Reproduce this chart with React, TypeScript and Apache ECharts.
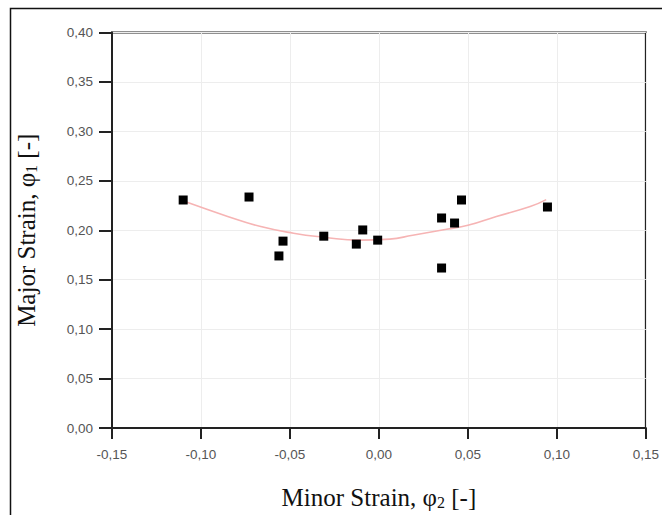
import React, { useEffect, useRef } from "react";
import * as echarts from "echarts";

const pointsX = [-0.11, -0.073, -0.0562, -0.0539, -0.031, -0.0127, -0.0091, -0.0007, 0.0352, 0.0425, 0.0464, 0.0352, 0.0947];
const pointsY = [0.2306, 0.2336, 0.174, 0.189, 0.194, 0.186, 0.2003, 0.19, 0.2124, 0.2073, 0.2306, 0.1618, 0.2235];

const fitX = [-0.109, -0.085, -0.067, -0.048, -0.031, -0.011, 0.006, 0.019, 0.038, 0.05, 0.066, 0.085, 0.094];
const fitY = [0.229, 0.214, 0.204, 0.197, 0.193, 0.19, 0.191, 0.195, 0.201, 0.205, 0.214, 0.224, 0.231];

const xName = "Minor Strain, ";
const yName = "Major Strain, ";

const fmt = (v: number) => v.toFixed(2).replace(".", ",");

export default function App() {
  const ref = useRef<HTMLDivElement>(null);
  useEffect(() => {
    if (!ref.current) return;
    const chart = echarts.init(ref.current, null, { renderer: "svg" });
    const nameRich = {
      n: { fontFamily: "Liberation Serif", fontSize: 25, color: "#111", verticalAlign: "bottom" as const, lineHeight: 27 },
      s: { fontFamily: "Liberation Serif", fontSize: 16, color: "#111", verticalAlign: "bottom" as const, lineHeight: 22 },
    };
    const axisCommon = {
      type: "value" as const,
      axisLine: { show: true, onZero: false, lineStyle: { color: "#222", width: 2 } },
      axisTick: { show: true, lineStyle: { color: "#222", width: 2 } },
      splitLine: { show: true, lineStyle: { color: "#ededed", width: 1 } },
      axisLabel: {
        fontFamily: "Liberation Sans",
        fontSize: 13.5,
        color: "#555",
        formatter: (v: number) => fmt(v),
      },
      nameLocation: "middle" as const,
    };
    chart.setOption({
      animation: false,
      backgroundColor: "#fff",
      grid: {
        left: 112,
        right: 15,
        top: 32.5,
        bottom: 87,
        show: true,
        borderColor: "#222",
        borderWidth: 2,
        backgroundColor: "transparent",
      },
      graphic: [
        {
          type: "rect",
          shape: { x: 10.5, y: 8.5, width: 700, height: 600 },
          style: { fill: "none", stroke: "#111", lineWidth: 1.5 },
          silent: true,
        },
      ],
      xAxis: {
        ...axisCommon,
        min: -0.15,
        max: 0.15,
        interval: 0.05,
        axisTick: { ...axisCommon.axisTick, length: 11 },
        axisLabel: { ...axisCommon.axisLabel, margin: 19 },
        name: "{n|" + xName + "φ}{s|2}{n| [-]}",
        nameGap: 55,
        nameTextStyle: { rich: nameRich },
      },
      yAxis: {
        ...axisCommon,
        min: 0,
        max: 0.4,
        interval: 0.05,
        axisTick: { ...axisCommon.axisTick, length: 13 },
        axisLabel: { ...axisCommon.axisLabel, margin: 19 },
        name: "{n|" + yName + "φ}{s|1}{n| [-]}",
        nameRotate: 90,
        nameGap: 73,
        nameTextStyle: { rich: nameRich },
      },
      series: [
        {
          type: "line",
          data: fitX.map((x, i) => [x, fitY[i]]),
          smooth: true,
          showSymbol: false,
          symbol: "none",
          lineStyle: { color: "#f6b4b4", width: 1.6 },
          z: 2,
        },
        {
          type: "scatter",
          data: pointsX.map((x, i) => [x, pointsY[i]]),
          symbol: "rect",
          symbolSize: 9,
          itemStyle: { color: "#000", opacity: 1 },
          z: 3,
        },
      ],
    });
    return () => chart.dispose();
  }, []);
  return (
    <div
      ref={ref}
      style={{ position: "fixed", left: 0, top: 0, width: 662, height: 515, background: "#fff" }}
    />
  );
}
